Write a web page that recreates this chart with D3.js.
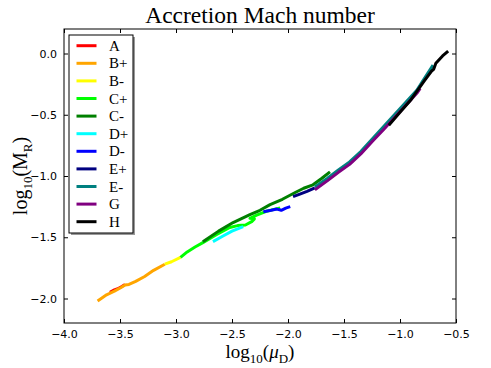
<!DOCTYPE html>
<html>
<head>
<meta charset="utf-8">
<script src="https://cdn.jsdelivr.net/npm/d3@7"></script>
<style>
  body { margin: 0; background: #fff; }
  .tick text { font-family: "DejaVu Sans", sans-serif; font-size: 11px; fill: #000; }
  .serif { font-family: "Liberation Serif", "DejaVu Serif", serif; }
</style>
</head>
<body>
<div id="chart"></div>
<script>
// series data, [log10(muD), log10(MR)]
var serA = [[-3.59, -1.95], [-3.55, -1.93], [-3.52, -1.92], [-3.48, -1.90], [-3.455, -1.885]];
var serBp = [[-3.70, -2.02], [-3.62, -1.97], [-3.55, -1.94], [-3.49, -1.91], [-3.455, -1.89],
             [-3.42, -1.885], [-3.36, -1.86], [-3.28, -1.82], [-3.20, -1.77], [-3.10, -1.72]];
var serBm = [[-3.10, -1.72], [-3.04, -1.70], [-2.96, -1.665]];
var serCp = [[-2.96, -1.665], [-2.90, -1.62], [-2.83, -1.58], [-2.76, -1.544], [-2.64, -1.48],
             [-2.52, -1.42], [-2.45, -1.405], [-2.38, -1.40], [-2.32, -1.37], [-2.30, -1.35],
             [-2.34, -1.345], [-2.28, -1.32], [-2.20, -1.29], [-2.07, -1.26]];
var serCm = [[-2.76, -1.536], [-2.62, -1.45], [-2.49, -1.38], [-2.42, -1.35], [-2.34, -1.315],
             [-2.25, -1.28], [-2.16, -1.234], [-2.05, -1.19], [-1.94, -1.137], [-1.86, -1.10],
             [-1.777, -1.072], [-1.70, -1.02], [-1.625, -0.966]];
var serDp = [[-2.67, -1.536], [-2.58, -1.49], [-2.50, -1.45], [-2.40, -1.413]];
var serDm = [[-2.22, -1.291], [-2.15, -1.28], [-2.10, -1.27], [-2.06, -1.28], [-2.02, -1.262], [-1.98, -1.25]];
var serEp = [[-1.955, -1.169], [-1.90, -1.15], [-1.83, -1.125], [-1.76, -1.096]];
var serEm = [[-1.76, -1.09], [-1.65, -1.02], [-1.55, -0.95], [-1.45, -0.885], [-1.35, -0.80],
             [-1.25, -0.70], [-1.15, -0.60], [-1.05, -0.50], [-0.95, -0.40], [-0.85, -0.30],
             [-0.78, -0.20], [-0.705, -0.095]];
var serG = [[-1.76, -1.112], [-1.65, -1.04], [-1.55, -0.97], [-1.45, -0.905], [-1.35, -0.82],
            [-1.25, -0.72], [-1.15, -0.625], [-1.05, -0.525], [-0.95, -0.425], [-0.85, -0.325], [-0.82, -0.285]];
var serH = [[-1.10, -0.585], [-1.00, -0.48], [-0.90, -0.375], [-0.85, -0.31], [-0.78, -0.22],
            [-0.72, -0.145], [-0.70, -0.13], [-0.68, -0.08], [-0.62, -0.02], [-0.57, 0.02]];

var names = ["A", "B+", "B-", "C+", "C-", "D+", "D-", "E+", "E-", "G", "H"];
var colors = ["#ff0000", "#ffa500", "#ffff00", "#00ff00", "#008000", "#00ffff",
              "#0000ff", "#000080", "#008080", "#800080", "#000000"];
var seriesList = [serA, serBp, serBm, serCp, serCm, serDp, serDm, serEp, serEm, serG, serH];

var xTicks = [-4.0, -3.5, -3.0, -2.5, -2.0, -1.5, -1.0, -0.5];
var yTicks = [-2.0, -1.5, -1.0, -0.5, 0.0];

var W = 491, H = 368;
var margin = { top: 29, right: 35, bottom: 45, left: 64 };
var width = W - margin.left - margin.right;
var height = H - margin.top - margin.bottom;

var x = d3.scaleLinear().domain([-4, -0.5]).range([0, width]);
var y = d3.scaleLinear().domain([-2.2, 0.2]).range([height, 0]);

var svg = d3.select("#chart").append("svg")
  .attr("width", W).attr("height", H);
var g = svg.append("g")
  .attr("transform", "translate(" + margin.left + "," + margin.top + ")");

var line = d3.line()
  .x(function (d) { return x(d[0]); })
  .y(function (d) { return y(d[1]); });

// draw curves in the original plotting order
seriesList.forEach(function (s, i) {
  g.append("path")
    .datum(s)
    .attr("d", line)
    .attr("fill", "none")
    .attr("stroke", colors[i])
    .attr("stroke-width", 3)
    .attr("stroke-linejoin", "round");
});

var fmt = d3.format(".1f");

// axes with inward ticks on all four sides
g.append("g")
  .attr("transform", "translate(0," + height + ")")
  .call(d3.axisBottom(x).tickValues(xTicks).tickFormat(fmt).tickSize(-4).tickPadding(7))
  .call(function (a) { a.select(".domain").remove(); });
g.append("g")
  .call(d3.axisTop(x).tickValues(xTicks).tickFormat("").tickSize(-4))
  .call(function (a) { a.select(".domain").remove(); });
g.append("g")
  .call(d3.axisLeft(y).tickValues(yTicks).tickFormat(fmt).tickSize(-4).tickPadding(7))
  .call(function (a) { a.select(".domain").remove(); });
g.append("g")
  .attr("transform", "translate(" + width + ",0)")
  .call(d3.axisRight(y).tickValues(yTicks).tickFormat("").tickSize(-4))
  .call(function (a) { a.select(".domain").remove(); });

g.append("rect")
  .attr("width", width).attr("height", height)
  .attr("fill", "none").attr("stroke", "#000").attr("stroke-width", 1);

// title and labels
svg.append("text").attr("class", "serif")
  .attr("x", margin.left + width / 2).attr("y", 23)
  .attr("text-anchor", "middle").style("font-size", "23.5px")
  .text("Accretion Mach number");

var xl = svg.append("text").attr("class", "serif")
  .attr("x", margin.left + width / 2).attr("y", 358)
  .attr("text-anchor", "middle").style("font-size", "19px");
xl.append("tspan").text("log");
xl.append("tspan").attr("dy", 5).style("font-size", "13px").text("10");
xl.append("tspan").attr("dy", -5).text("(");
xl.append("tspan").style("font-style", "italic").text("μ");
xl.append("tspan").attr("dy", 5).style("font-size", "13px").text("D");
xl.append("tspan").attr("dy", -5).text(")");

var yl = svg.append("text").attr("class", "serif")
  .attr("transform", "translate(27," + (margin.top + height / 2) + ") rotate(-90)")
  .attr("text-anchor", "middle").style("font-size", "20px");
yl.append("tspan").text("log");
yl.append("tspan").attr("dy", 5).style("font-size", "13px").text("10");
yl.append("tspan").attr("dy", -5).text("(M");
yl.append("tspan").attr("dy", 5).style("font-size", "13px").text("R");
yl.append("tspan").attr("dy", -5).text(")");

// legend
var lg = g.append("g").attr("transform", "translate(5,6)");
lg.append("rect").attr("x", 2).attr("y", 2).attr("width", 64).attr("height", 198).attr("fill", "#999");
lg.append("rect").attr("width", 64).attr("height", 198)
  .attr("fill", "#fff").attr("stroke", "#000").attr("stroke-width", 1);
names.forEach(function (n, i) {
  var yy = 10.7 + i * 17.6;
  lg.append("line")
    .attr("x1", 7.5).attr("x2", 27.5).attr("y1", yy).attr("y2", yy)
    .attr("stroke", colors[i]).attr("stroke-width", 3);
  lg.append("text").attr("class", "serif")
    .attr("x", 40).attr("y", yy + 5)
    .style("font-size", "15px")
    .text(n);
});
</script>
</body>
</html>
